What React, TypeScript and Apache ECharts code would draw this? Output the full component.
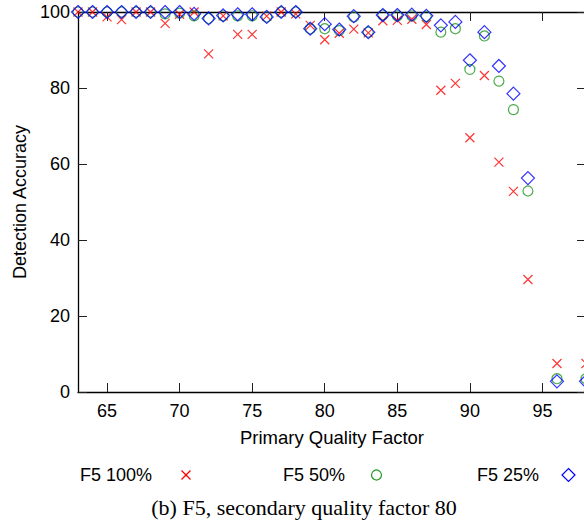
import React, { useEffect, useRef } from 'react';
import * as echarts from 'echarts';

const qualityFactors = [63, 64, 65, 66, 67, 68, 69, 70, 71, 72, 73, 74, 75, 76, 77, 78, 79, 80, 81, 82, 83, 84, 85, 86, 87, 88, 89, 90, 91, 92, 93, 94, 96, 98];
const f5Full = [100, 100, 98.7, 98, 100, 100, 97, 99.4, 100, 89, 99, 94.1, 94.1, 98.9, 100, 99.5, 96.5, 92.7, 94.4, 95.5, 94.5, 97.7, 97.8, 98.1, 96.7, 79.4, 81.2, 66.9, 83.3, 60.5, 52.8, 29.6, 7.5, 7.5];
const f5Half = [100, 100, 100, 100, 100, 100, 99.5, 99.7, 99, 98.3, 99, 99, 99, 98.7, 100, 100, 95.6, 95.6, 95.1, 98.7, 94.7, 99.2, 99, 99, 98.8, 94.7, 95.6, 84.9, 93.7, 81.8, 74.3, 52.9, 3.5, 3.5];
const f5Quarter = [100, 100, 100, 100, 100, 100, 100, 100, 99.5, 98.3, 99.1, 99.4, 99.4, 98.7, 100, 100, 95.6, 96.8, 95.4, 98.9, 94.7, 99.2, 99.2, 99.3, 99, 96.5, 97.4, 87.3, 94.7, 85.8, 78.5, 56.3, 2.8, 2.8];
const xTicks = [65, 70, 75, 80, 85, 90, 95];
const seriesNames = ['F5 100%', 'F5 50%', 'F5 25%'];
const caption = '(b) F5, secondary quality factor 80';

const RED = '#ff0000';
const GREEN = '#1e961e';
const BLUE = '#0000ff';
const SANS = '"Liberation Sans", Arial, sans-serif';

const pairs = (ys: number[]) => qualityFactors.map((x, i) => [x, ys[i]]);

export default function App() {
  const ref = useRef<HTMLDivElement>(null);
  useEffect(() => {
    const chart = echarts.init(ref.current!, null, { renderer: 'svg' });
    const axisLine = { show: true, onZero: false, lineStyle: { color: '#000', width: 1.3 } };
    const tick = { show: true, inside: true, length: 9, lineStyle: { color: '#222', width: 1 } };
    chart.setOption({
      animation: false,
      backgroundColor: '#fff',
      grid: { left: 78, top: 12, width: 508, height: 380, containLabel: false, outerBoundsMode: 'none' },
      xAxis: [
        {
          type: 'value', min: 63, max: 98, position: 'bottom',
          axisLine, axisTick: { ...tick, customValues: xTicks },
          axisLabel: { customValues: xTicks, margin: 10, fontSize: 18, color: '#000', fontFamily: SANS },
          splitLine: { show: false },
          name: 'Primary Quality Factor', nameLocation: 'middle', nameGap: 36,
          nameTextStyle: { fontSize: 18.5, color: '#000', fontFamily: SANS },
        },
        {
          type: 'value', min: 63, max: 98, position: 'top',
          axisLine, axisTick: { ...tick, customValues: xTicks },
          axisLabel: { show: false }, splitLine: { show: false },
        },
      ],
      yAxis: [
        {
          type: 'value', min: 0, max: 100, interval: 20, position: 'left',
          axisLine, axisTick: tick,
          axisLabel: { margin: 8, fontSize: 18, color: '#000', fontFamily: SANS },
          splitLine: { show: false },
          name: 'Detection Accuracy', nameLocation: 'middle', nameGap: 45,
          nameTextStyle: { fontSize: 18, color: '#000', fontFamily: SANS },
        },
        {
          type: 'value', min: 0, max: 100, interval: 20, position: 'right',
          axisLine, axisTick: tick,
          axisLabel: { show: false }, splitLine: { show: false },
        },
      ],
      series: [
        {
          name: seriesNames[0], type: 'scatter', data: pairs(f5Full),
          symbol: 'path://M0,0L10,10M10,0L0,10', symbolSize: 9,
          itemStyle: { color: 'transparent', borderColor: RED, borderWidth: 1.2 },
        },
        {
          name: seriesNames[1], type: 'scatter', data: pairs(f5Half),
          symbol: 'circle', symbolSize: 10,
          itemStyle: { color: 'transparent', borderColor: GREEN, borderWidth: 1.2 },
        },
        {
          name: seriesNames[2], type: 'scatter', data: pairs(f5Quarter),
          symbol: 'diamond', symbolSize: 13,
          itemStyle: { color: 'transparent', borderColor: BLUE, borderWidth: 1.2 },
        },
      ],
      graphic: [
        { type: 'text', x: 80, y: 475, style: { text: seriesNames[0], fontSize: 18, fontFamily: SANS, fill: '#000', align: 'left', verticalAlign: 'middle' } },
        { type: 'line', shape: { x1: 181.5, y1: 470.5, x2: 190.5, y2: 479.5 }, style: { stroke: RED, lineWidth: 1.2 } },
        { type: 'line', shape: { x1: 190.5, y1: 470.5, x2: 181.5, y2: 479.5 }, style: { stroke: RED, lineWidth: 1.2 } },
        { type: 'text', x: 283, y: 475, style: { text: seriesNames[1], fontSize: 18, fontFamily: SANS, fill: '#000', align: 'left', verticalAlign: 'middle' } },
        { type: 'circle', shape: { cx: 376.5, cy: 475, r: 5 }, style: { fill: 'none', stroke: GREEN, lineWidth: 1.2 } },
        { type: 'text', x: 477, y: 475, style: { text: seriesNames[2], fontSize: 18, fontFamily: SANS, fill: '#000', align: 'left', verticalAlign: 'middle' } },
        { type: 'polygon', shape: { points: [[568.5, 468.5], [575, 475], [568.5, 481.5], [562, 475]] }, style: { fill: 'none', stroke: BLUE, lineWidth: 1.2 } },
        { type: 'text', x: 304, y: 507, style: { text: caption, fontSize: 22, fontFamily: '"Liberation Serif", "Times New Roman", serif', fill: '#000', align: 'center', verticalAlign: 'middle' } },
      ],
    });
    return () => chart.dispose();
  }, []);
  return (
    <div style={{ position: 'fixed', left: 0, top: 0, width: 584, height: 525, overflow: 'hidden', background: '#fff' }}>
      <div ref={ref} style={{ width: 600, height: 525 }} />
    </div>
  );
}
